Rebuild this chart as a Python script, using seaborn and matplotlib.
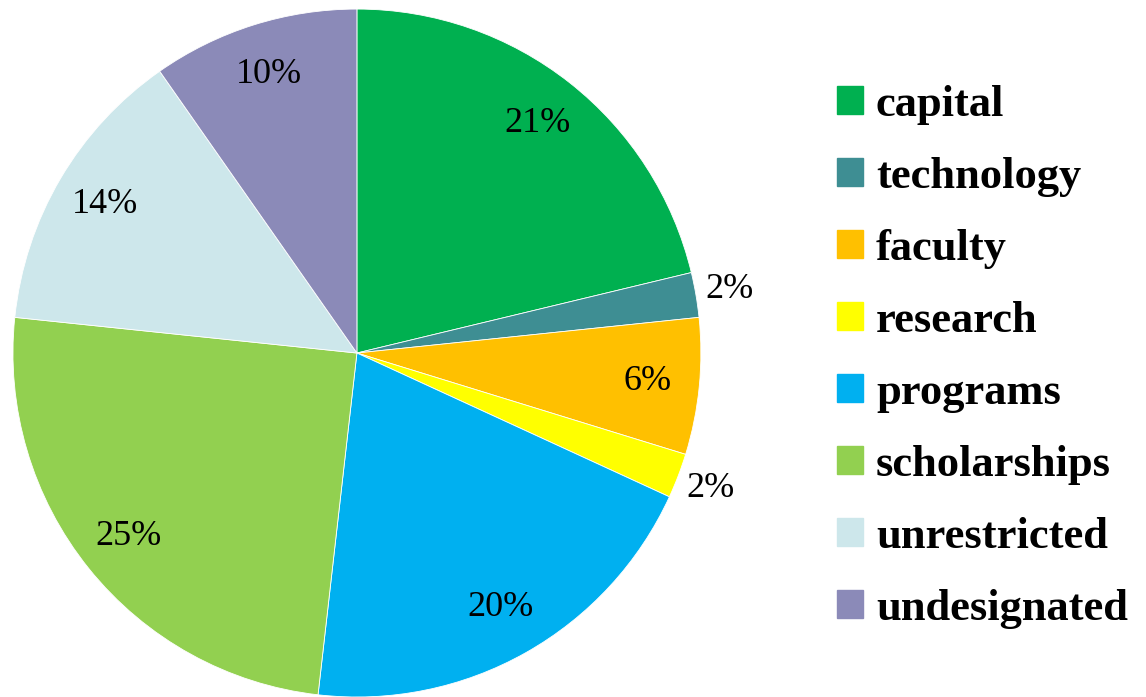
import numpy as np
import matplotlib
matplotlib.use("Agg")
import matplotlib.pyplot as plt
import matplotlib.patches as mpatches
import seaborn as sns

# Data (shares, labels show rounded percent)
categories = ['capital', 'technology', 'faculty', 'research', 'programs',
              'scholarships', 'unrestricted', 'undesignated']
shares = [21.2, 2.1, 6.4, 2.1, 19.9, 24.8, 13.6, 9.7]
colors = ['#00B050', '#3E8E93', '#FFC000', '#FFFF00', '#00B0F0',
          '#92D050', '#CDE7EB', '#8B8AB8']

sns.set_theme(style="white")
plt.rcParams['font.family'] = ['Liberation Serif', 'DejaVu Serif']
plt.rcParams['text.color'] = 'black'

fig = plt.figure(figsize=(11.46, 6.97), dpi=100)
ax = fig.add_axes([0.0113, 0.0, 0.6003, 0.987])

wedges, _ = ax.pie(shares, colors=sns.color_palette(colors), startangle=90,
                   counterclock=False, radius=1,
                   wedgeprops=dict(edgecolor='white', linewidth=0.6))
ax.set_xlim(-1, 1)
ax.set_ylim(-1, 1)
ax.set_aspect('equal')
ax.axis('off')

# Percent labels: inside for big slices, outside for the tiny ones
total = sum(shares)
for w, v in zip(wedges, shares):
    ang = np.deg2rad((w.theta1 + w.theta2) / 2)
    r = 0.85 if v > 3 else 1.1
    ax.text(r * np.cos(ang), r * np.sin(ang), f'{round(100 * v / total)}%',
            ha='center', va='center', fontsize=26, color='black', clip_on=False)

handles = [mpatches.Patch(color=c, label=l) for c, l in zip(colors, categories)]
fig.legend(handles=handles, loc='upper left', bbox_to_anchor=(0.730, 0.878),
           frameon=False, prop=dict(size=32, weight='bold'), labelcolor='black',
           handlelength=0.585, handleheight=0.585, handletextpad=0.3,
           labelspacing=0.72, borderaxespad=0, borderpad=0)

fig.savefig('out.png', dpi=100)
